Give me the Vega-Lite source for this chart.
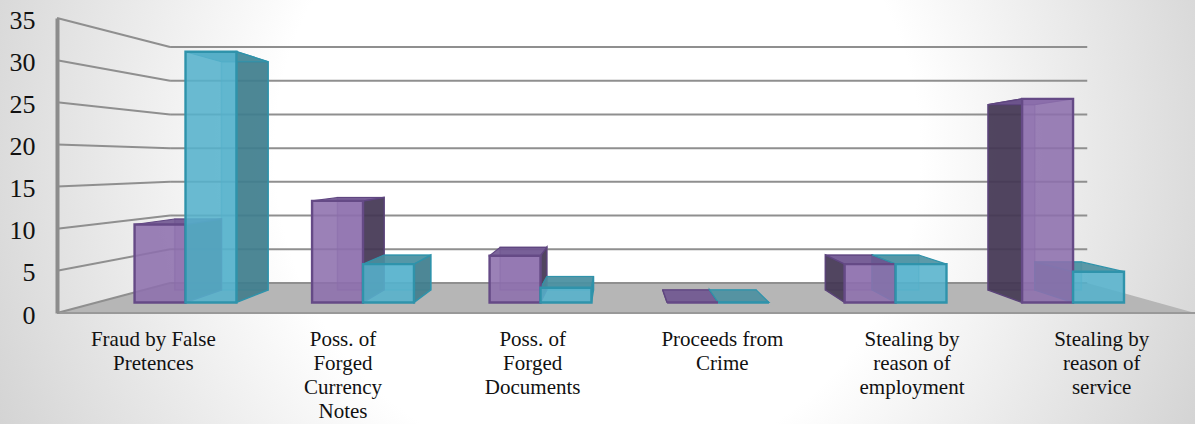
{"$schema":"https://vega.github.io/schema/vega-lite/v6.json","width":1138,"height":295,"autosize":{"type":"none"},"padding":{"left":57,"top":18,"right":0,"bottom":111},"background":"#ffffff","view":{"stroke":null},
"datasets":{"bars":[
{"category":"Fraud by False Pretences","series":"Series 1","value":10.5},{"category":"Fraud by False Pretences","series":"Series 2","value":31},
{"category":"Poss. of Forged Currency Notes","series":"Series 1","value":13.3},{"category":"Poss. of Forged Currency Notes","series":"Series 2","value":5.8},
{"category":"Poss. of Forged Documents","series":"Series 1","value":6.8},{"category":"Poss. of Forged Documents","series":"Series 2","value":3},
{"category":"Proceeds from Crime","series":"Series 1","value":0},{"category":"Proceeds from Crime","series":"Series 2","value":0},
{"category":"Stealing by reason of employment","series":"Series 1","value":5.8},{"category":"Stealing by reason of employment","series":"Series 2","value":5.8},
{"category":"Stealing by reason of service","series":"Series 1","value":25.4},{"category":"Stealing by reason of service","series":"Series 2","value":4.9}],
"ticks":[{"tick":0},{"tick":5},{"tick":10},{"tick":15},{"tick":20},{"tick":25},{"tick":30},{"tick":35}]},
"data":{"name":"bars"},
"transform":[
{"calculate":"indexof(['Fraud by False Pretences','Poss. of Forged Currency Notes','Poss. of Forged Documents','Proceeds from Crime','Stealing by reason of employment','Stealing by reason of service'],datum.category)","as":"idx"},
{"calculate":"datum.idx+(datum.series=='Series 1'?-0.287:0)","as":"x0"},
{"calculate":"datum.x0+0.287","as":"x1"},
{"calculate":"datum.idx<3?datum.x1:datum.x0","as":"edge"},
{"calculate":"max(datum.value,1.25)","as":"vt"},
{"calculate":"datum.x0+0.0836*(2.42-datum.x0)","as":"bx0"},
{"calculate":"datum.x1+0.0836*(2.42-datum.x1)","as":"bx1"},
{"calculate":"1.6+0.91*datum.vt","as":"bt"},
{"calculate":"0","as":"p0"},{"calculate":"1","as":"p1"}
],
"resolve":{"scale":{"x":"independent","fill":"independent","stroke":"independent"}},
"layer":[
{"data":{"values":[{}]},"mark":{"type":"rect","fill":{"gradient":"radial","x1":0.5,"y1":0.45,"r1":0,"x2":0.5,"y2":0.45,"r2":0.6,"stops":[{"offset":0,"color":"#ffffff"},{"offset":0.45,"color":"#ffffff"},{"offset":1,"color":"#cccccc"}]}},"encoding":{"x":{"value":-57},"x2":{"value":1138},"y":{"value":-18},"y2":{"value":406}}},
{"data":{"name":"ticks"},"transform":[{"filter":"datum.tick==0"},{"calculate":"0","as":"p0"},{"calculate":"1","as":"p1"},{"fold":["p0","p1"],"as":["k","t"]},{"calculate":"datum.t*3.56","as":"fy"},{"calculate":"-0.724+datum.t*0.637","as":"fx0"},{"calculate":"5.687-datum.t*0.607","as":"fx1"}],
"mark":{"type":"area","orient":"horizontal","fill":"#b6b6b6"},
"encoding":{"y":{"field":"fy","type":"quantitative","scale":{"domain":[0,35],"nice":false,"zero":false},"axis":{"values":[0,5,10,15,20,25,30,35],"title":null,"grid":false,"ticks":false,"domainColor":"#8c8c8c","domainWidth":4,"labelFont":"Liberation Serif","labelFontSize":26,"labelColor":"#111111","labelPadding":22,"labelOffset":2,"zindex":1}},"x":{"field":"fx0","type":"quantitative","scale":{"domain":[-0.724,5.687],"nice":false,"zero":false},"axis":null},"x2":{"field":"fx1"}}},
{"data":{"name":"ticks"},"transform":[{"calculate":"3.56+0.8*datum.tick","as":"wy"},{"calculate":"-0.724","as":"a"},{"calculate":"-0.087","as":"b"}],
"mark":{"type":"rule","stroke":"#8f8f8f","strokeWidth":2},
"encoding":{"x":{"field":"a","type":"quantitative","scale":{"domain":[-0.724,5.687],"nice":false,"zero":false},"axis":null},"x2":{"field":"b"},"y":{"field":"tick","type":"quantitative","title":null},"y2":{"field":"wy"}}},
{"data":{"name":"ticks"},"transform":[{"calculate":"3.56+0.8*datum.tick","as":"wy"},{"calculate":"-0.087","as":"a"},{"calculate":"5.08","as":"b"}],
"mark":{"type":"rule","stroke":"#8f8f8f","strokeWidth":2},
"encoding":{"x":{"field":"a","type":"quantitative","scale":{"domain":[-0.724,5.687],"nice":false,"zero":false},"axis":null},"x2":{"field":"b"},"y":{"field":"wy","type":"quantitative","title":null}}},
{"data":{"name":"ticks"},"transform":[{"filter":"datum.tick==0"},{"calculate":"-0.724","as":"a"},{"calculate":"5.687","as":"b"}],
"mark":{"type":"rule","stroke":"#999999","strokeWidth":2},
"encoding":{"x":{"field":"a","type":"quantitative","scale":{"domain":[-0.724,5.687],"nice":false,"zero":false},"axis":null},"x2":{"field":"b"},"y":{"field":"tick","type":"quantitative","title":null}}},
{"mark":{"type":"rect","fillOpacity":0.45,"strokeWidth":1.5,"strokeOpacity":0.5},
"encoding":{"x":{"field":"bx0","type":"quantitative","scale":{"domain":[-0.724,5.687],"nice":false,"zero":false},"axis":null},"x2":{"field":"bx1"},"y":{"field":"bt","type":"quantitative","title":null},"y2":{"datum":2.74},
"fill":{"field":"series","type":"nominal","scale":{"range":["#8a6caa","#58b4cf"]},"legend":null},"stroke":{"field":"series","type":"nominal","scale":{"range":["#6a4f8a","#3a9db8"]},"legend":null}}},
{"transform":[{"fold":["p0","p1"],"as":["k","t"]},{"calculate":"datum.edge+datum.t*0.0836*(2.42-datum.edge)","as":"sx"},{"calculate":"datum.vt+datum.t*(datum.bt-datum.vt)","as":"sy"},{"calculate":"1.25+datum.t*1.49","as":"sy2"}],
"mark":{"type":"area","fillOpacity":0.88,"strokeWidth":1.5},
"encoding":{"x":{"field":"sx","type":"quantitative","scale":{"domain":[-0.724,5.687],"nice":false,"zero":false},"axis":null},"y":{"field":"sy","type":"quantitative","title":null},"y2":{"field":"sy2"},"detail":{"field":"category"},
"fill":{"field":"series","type":"nominal","scale":{"range":["#40344f","#3f7b8a"]},"legend":null},"stroke":{"field":"series","type":"nominal","scale":{"range":["#5a4378","#2f93ab"]},"legend":null}}},
{"transform":[{"fold":["p0","p1"],"as":["k","t"]},{"calculate":"datum.x0+datum.t*(datum.bx0-datum.x0)","as":"ta"},{"calculate":"datum.x1+datum.t*(datum.bx1-datum.x1)","as":"tb"},{"calculate":"datum.vt+datum.t*(datum.bt-datum.vt)","as":"sy"}],
"mark":{"type":"area","orient":"horizontal","fillOpacity":0.9,"strokeWidth":1.2},
"encoding":{"x":{"field":"ta","type":"quantitative","scale":{"domain":[-0.724,5.687],"nice":false,"zero":false},"axis":null},"x2":{"field":"tb"},"y":{"field":"sy","type":"quantitative","title":null},"detail":{"field":"category"},
"fill":{"field":"series","type":"nominal","scale":{"range":["#6f5590","#4a8fa0"]},"legend":null},"stroke":{"field":"series","type":"nominal","scale":{"range":["#5f4680","#2f93ab"]},"legend":null}}},
{"mark":{"type":"rect","fillOpacity":0.88,"strokeWidth":2.4},
"encoding":{"x":{"field":"x0","type":"quantitative","scale":{"domain":[-0.724,5.687],"nice":false,"zero":false},"axis":null},"x2":{"field":"x1"},"y":{"field":"vt","type":"quantitative","title":null},"y2":{"datum":1.25},
"fill":{"field":"series","type":"nominal","scale":{"range":["#8d70ad","#55b2cc"]},"legend":null},"stroke":{"field":"series","type":"nominal","scale":{"range":["#654a86","#2f93ab"]},"legend":null}}},
{"mark":{"type":"point","opacity":0},
"encoding":{"x":{"field":"category","type":"nominal","sort":null,"scale":{"type":"band","paddingInner":0,"paddingOuter":0},
"axis":{"title":null,"domain":false,"ticks":false,"labelAngle":0,"labelFont":"Liberation Serif","labelFontSize":21,"labelColor":"#111111","labelLineHeight":24,"labelPadding":15,"labelOffset":1.5,"labelLimit":0,"labelOverlap":false,"labelAlign":"center","labelBaseline":"top","zindex":1,
"labelExpr":"{'Fraud by False Pretences':['Fraud by False','Pretences'],'Poss. of Forged Currency Notes':['Poss. of','Forged','Currency','Notes'],'Poss. of Forged Documents':['Poss. of','Forged','Documents'],'Proceeds from Crime':['Proceeds from','Crime'],'Stealing by reason of employment':['Stealing by','reason of','employment'],'Stealing by reason of service':['Stealing by','reason of','service']}[datum.label]"}}}}
]}
